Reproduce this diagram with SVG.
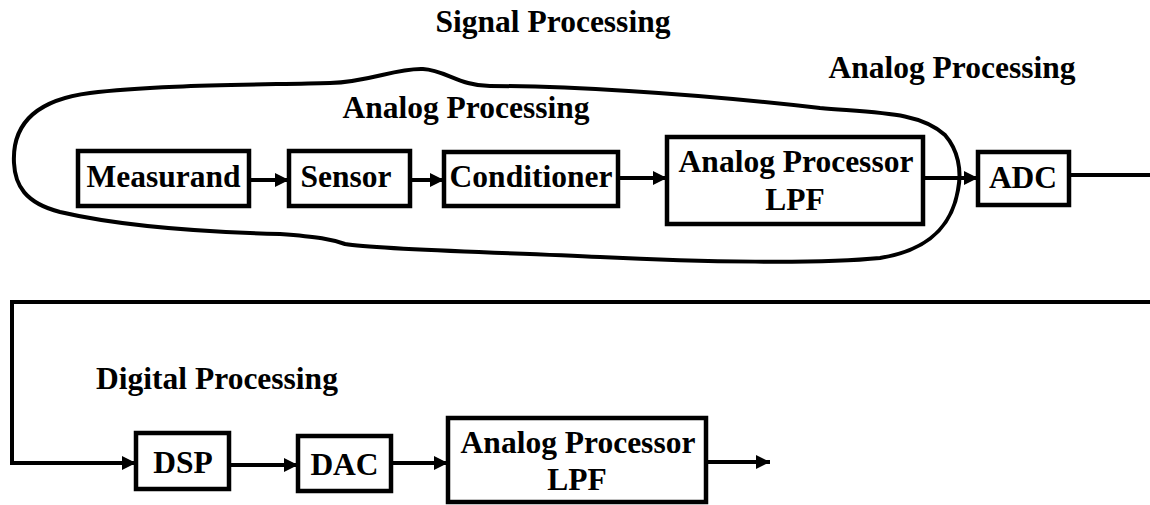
<svg xmlns="http://www.w3.org/2000/svg" width="1150" height="505" viewBox="0 0 1150 505">
<defs>
<style>
text{font-family:'Liberation Serif','DejaVu Serif',serif;font-weight:bold;font-size:31.5px;fill:#000}
.c{text-anchor:middle}
.box{fill:#fff;stroke:#000;stroke-width:4.5}
.ln{fill:none;stroke:#000;stroke-width:4}
.blob{fill:none;stroke:#000;stroke-width:4}
</style>
<marker id="ah" viewBox="0 0 10 10" refX="10" refY="5" markerWidth="15" markerHeight="14" markerUnits="userSpaceOnUse" orient="auto">
<path d="M0,0 L10,5 L0,10 Z" fill="#000"/>
</marker>
</defs>
<rect width="1150" height="505" fill="#fff"/>
<g id="labels">
<text class="c" x="553" y="32" font-family="Liberation Serif, serif">Signal Processing</text>
<text class="c" x="952" y="78" font-family="Liberation Serif, serif">Analog Processing</text>
<text class="c" x="466" y="118" font-family="Liberation Serif, serif">Analog Processing</text>
<text class="c" x="217" y="389" font-family="Liberation Serif, serif">Digital Processing</text>
</g>
<path id="analog-region" class="blob" d="M14,163 C12,125 35,100 90,93 C150,85 250,85 330,83 C370,82 395,68 423,69 C445,70 460,86 490,86 C560,86 680,92 820,108 C880,113 920,112 945,135 C958,150 962,170 958,190 C952,225 930,250 880,258 C820,264 700,262 600,257 C500,252 380,250 345,244 C330,239 320,237 280,234 C200,232 120,226 60,212 C25,203 15,185 14,163 Z"/>
<g id="connectors">
<line class="ln" x1="249" y1="180" x2="289" y2="180" marker-end="url(#ah)"/>
<line class="ln" x1="410" y1="180" x2="444" y2="180" marker-end="url(#ah)"/>
<line class="ln" x1="618" y1="178" x2="667" y2="178" marker-end="url(#ah)"/>
<line class="ln" x1="923" y1="178" x2="978" y2="178" marker-end="url(#ah)"/>
<line class="ln" x1="1069" y1="175" x2="1150" y2="175"/>
<polyline class="ln" points="1150,302 12,302 12,463 136,463" marker-end="url(#ah)"/>
<line class="ln" x1="229" y1="465" x2="298" y2="465" marker-end="url(#ah)"/>
<line class="ln" x1="391" y1="463" x2="448" y2="463" marker-end="url(#ah)"/>
<line class="ln" x1="706" y1="462" x2="770" y2="462" marker-end="url(#ah)"/>
</g>
<g id="measurand"><rect class="box" x="78" y="151" width="171" height="55"/><text class="c" x="163.5" y="187">Measurand</text></g>
<g id="sensor"><rect class="box" x="289" y="151" width="121" height="55"/><text class="c" x="346" y="187">Sensor</text></g>
<g id="conditioner"><rect class="box" x="444" y="152" width="174" height="54"/><text class="c" x="531" y="187">Conditioner</text></g>
<g id="analog-processor-1"><rect class="box" x="667" y="137" width="256" height="87"/><text class="c" x="796" y="172">Analog Processor</text><text class="c" x="795" y="210">LPF</text></g>
<g id="adc"><rect class="box" x="978" y="152" width="91" height="53"/><text class="c" x="1023" y="188">ADC</text></g>
<g id="dsp"><rect class="box" x="136" y="433" width="93" height="56"/><text class="c" x="183" y="473">DSP</text></g>
<g id="dac"><rect class="box" x="298" y="436" width="93" height="55"/><text class="c" x="344.5" y="475">DAC</text></g>
<g id="analog-processor-2"><rect class="box" x="448" y="418" width="258" height="84"/><text class="c" x="578" y="453">Analog Processor</text><text class="c" x="577" y="490">LPF</text></g>
</svg>
